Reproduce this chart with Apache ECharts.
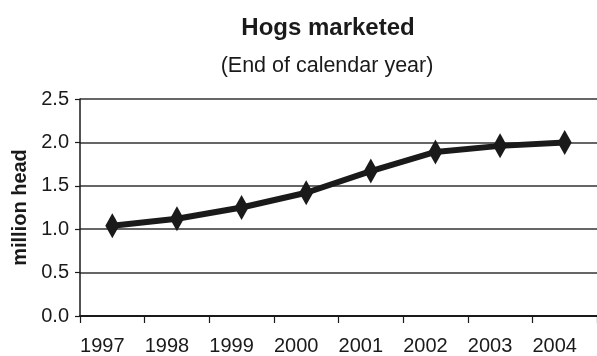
<!DOCTYPE html>
<html>
<head>
<meta charset="utf-8">
<script src="https://cdn.jsdelivr.net/npm/echarts@6/dist/echarts.min.js"></script>
<style>
  html, body { margin: 0; padding: 0; background: #fff; overflow: hidden; }
  #chart { width: 597px; height: 356px; }
</style>
</head>
<body>
<div id="chart"></div>
<script>
// Hogs marketed, end of calendar year (million head)
const years = ['1997', '1998', '1999', '2000', '2001', '2002', '2003', '2004'];
const hogsMarketed = [1.04, 1.12, 1.25, 1.42, 1.67, 1.89, 1.96, 2.00];
const yTicks = { min: 0, max: 2.5, step: 0.5 };

const FONT = '"Liberation Sans", Arial, Helvetica, sans-serif';
const INK = '#1a1a1a';

const chart = echarts.init(document.getElementById('chart'), null, { renderer: 'canvas' });
chart.setOption({
  backgroundColor: '#ffffff',
  animation: false,
  title: [
    {
      text: 'Hogs marketed',
      left: 323, top: 11, textAlign: 'center',
      textStyle: { fontFamily: FONT, fontSize: 24, fontWeight: 'bold', color: INK }
    },
    {
      text: '(End of calendar year)',
      left: 322, top: 50, textAlign: 'center',
      textStyle: { fontFamily: FONT, fontSize: 21.5, fontWeight: 'normal', color: INK }
    }
  ],
  // plot area runs slightly past the right edge of the canvas
  grid: { left: 80, top: 99, width: 522, bottom: 38.5, containLabel: false },
  xAxis: {
    type: 'category',
    data: years,
    boundaryGap: true,
    axisLine: { show: true, lineStyle: { color: INK, width: 2 } },
    axisTick: { show: true, length: 7, lineStyle: { color: INK, width: 1.2 } },
    axisLabel: {
      fontFamily: FONT, fontSize: 20, color: INK, margin: 20,
      padding: [0, 20, 0, 0]
    },
    splitLine: { show: false }
  },
  yAxis: {
    type: 'value',
    min: yTicks.min, max: yTicks.max, interval: yTicks.step,
    name: 'million head',
    nameLocation: 'middle',
    nameGap: 46,
    nameRotate: 90,
    nameTextStyle: { fontFamily: FONT, fontSize: 20, fontWeight: 'bold', color: INK },
    axisLine: { show: true, lineStyle: { color: INK, width: 1.5 } },
    axisTick: { show: true, length: 5, lineStyle: { color: INK, width: 1.2 } },
    axisLabel: {
      fontFamily: FONT, fontSize: 20, color: INK, margin: 11,
      formatter: v => v.toFixed(1)
    },
    splitLine: { show: true, lineStyle: { color: '#333333', width: 1.5 } }
  },
  series: [{
    type: 'line',
    data: hogsMarketed,
    symbol: 'diamond',
    symbolSize: [14, 25],
    lineStyle: { color: INK, width: 6 },
    itemStyle: { color: INK, borderColor: INK, borderWidth: 0 },
    z: 5
  }]
});
</script>
</body>
</html>
